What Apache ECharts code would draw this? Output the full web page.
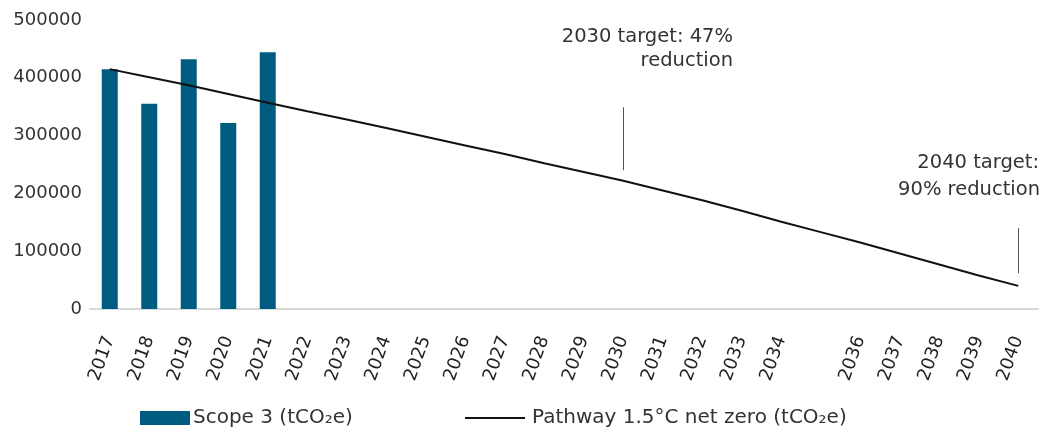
<!DOCTYPE html>
<html>
<head>
<meta charset="utf-8">
<script src="https://cdn.jsdelivr.net/npm/echarts@6/dist/echarts.min.js"></script>
<style>
html,body{margin:0;padding:0;background:#fff;}
#c{width:1043px;height:434px;}
</style>
</head>
<body>
<div id="c"></div>
<script>
const years = ['2017','2018','2019','2020','2021','2022','2023','2024','2025','2026','2027','2028','2029','2030','2031','2032','2033','2034','2035','2036','2037','2038','2039','2040'];
const hiddenTickLabels = ['2035'];
const scope3 = [415000, 355000, 432000, 322000, 444000, null, null, null, null, null, null, null, null, null, null, null, null, null, null, null, null, null, null, null];
const pathway = [415000, 401000, 387000, 372000, 357000, 342000, 328000, 313000, 298000, 283000, 268000, 252000, 237000, 222000, 205000, 188000, 170000, 151000, 133000, 115000, 96000, 77000, 58000, 40000];
const yTicks = [0, 100000, 200000, 300000, 400000, 500000];
const target2030 = {year: '2030', from: 349000, to: 240000, text: ['2030 target: 47%', 'reduction']};
const target2040 = {year: '2040', from: 140000, to: 62000, text: ['2040 target:', '90% reduction']};
const seriesNames = ['Scope 3 (tCO\u2082e)', 'Pathway 1.5\u00b0C net zero (tCO\u2082e)'];

const FONT = '"DejaVu Sans", sans-serif';
const chart = echarts.init(document.getElementById('c'));
function note(text, x, y) {
  return {type: 'text', x: x, y: y, silent: true,
    style: {text: text, align: 'right', textAlign: 'right', verticalAlign: 'middle', textVerticalAlign: 'middle',
            font: '19.5px ' + FONT, fill: '#333'}};
}
chart.setOption({
  animation: false,
  textStyle: {fontFamily: FONT},
  grid: {left: 90, right: 5, top: 20, bottom: 125},
  legend: [
    {
      left: 140, top: 408, padding: 0,
      itemWidth: 50, itemHeight: 14, icon: 'rect',
      textStyle: {fontSize: 20, color: '#333', fontFamily: FONT, padding: [4, 0, 0, -2]},
      data: [seriesNames[0]]
    },
    {
      left: 465, top: 408, padding: 0,
      itemWidth: 60, itemHeight: 2, icon: 'rect',
      textStyle: {fontSize: 20, color: '#333', fontFamily: FONT, padding: [4, 0, 0, 2]},
      data: [seriesNames[1]]
    }
  ],
  xAxis: {
    type: 'category',
    data: years,
    axisLine: {lineStyle: {color: '#d9d9d9', width: 2}},
    axisTick: {show: false},
    axisLabel: {
      interval: 0, rotate: 70, margin: 28,
      fontSize: 18, color: '#222', fontFamily: FONT,
      formatter: v => hiddenTickLabels.includes(v) ? '' : v
    }
  },
  yAxis: {
    type: 'value',
    min: yTicks[0], max: yTicks[yTicks.length - 1], interval: yTicks[1] - yTicks[0],
    axisLine: {show: false},
    axisTick: {show: false},
    splitLine: {show: false},
    axisLabel: {fontSize: 18, color: '#333', margin: 8, fontFamily: FONT, formatter: v => String(v)}
  },
  series: [
    {
      name: seriesNames[0],
      type: 'bar',
      data: scope3,
      barWidth: 16,
      itemStyle: {color: '#005b80'}
    },
    {
      name: seriesNames[1],
      type: 'line',
      data: pathway,
      showSymbol: false,
      symbol: 'none',
      itemStyle: {color: '#111'},
      lineStyle: {color: '#111', width: 2},
      markLine: {
        silent: true,
        symbol: ['none', 'none'],
        label: {show: false},
        lineStyle: {color: '#555', width: 1, type: 'solid'},
        data: [
          [{coord: [target2030.year, target2030.from]}, {coord: [target2030.year, target2030.to]}],
          [{coord: [target2040.year, target2040.from]}, {coord: [target2040.year, target2040.to]}]
        ]
      }
    }
  ],
  graphic: [
    note(target2030.text[0], 733, 37),
    note(target2030.text[1], 733, 61),
    note(target2040.text[0], 1039, 163),
    note(target2040.text[1], 1040, 190)
  ]
});
</script>
</body>
</html>
